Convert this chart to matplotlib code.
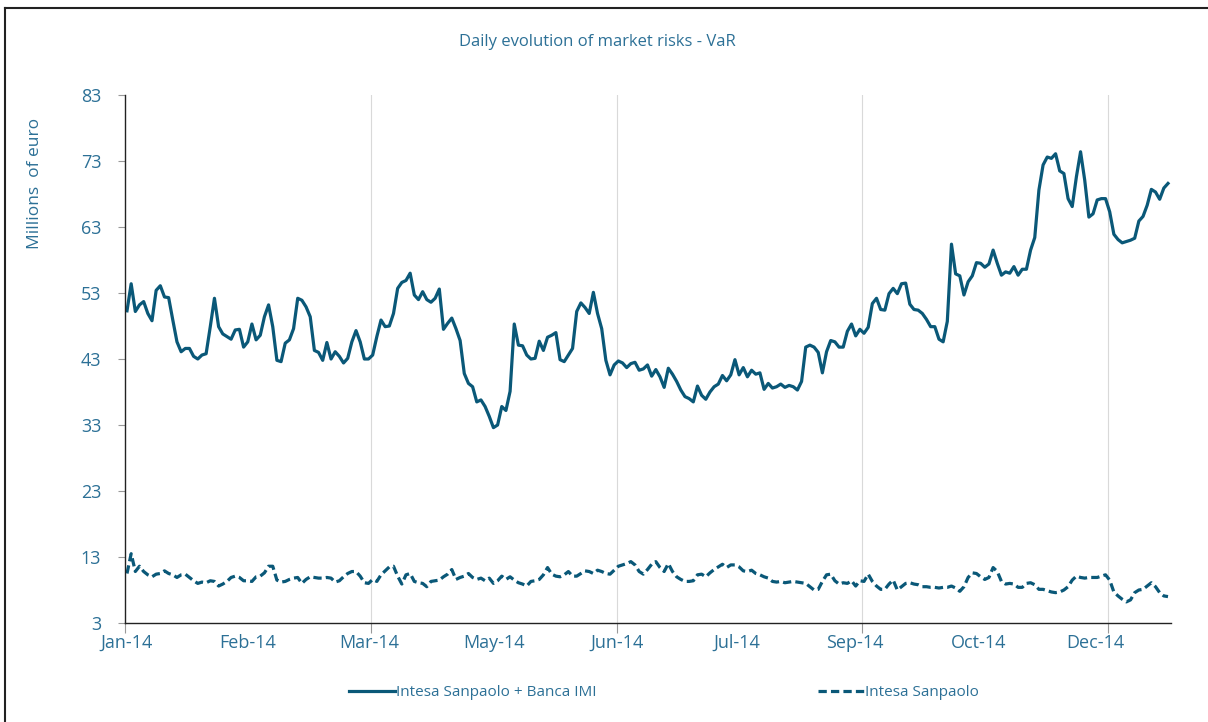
#VaR daily evolution chart
import numpy as np
import matplotlib
matplotlib.use("Agg")
import matplotlib.pyplot as plt
from matplotlib.lines import Line2D

plt.rcParams['font.family'] = ['Open Sans', 'DejaVu Sans']

#values (millions of euro), one per business day
group_var = [
    50.3, 54.4, 50.2, 51.2, 51.7, 49.9, 48.8, 53.4, 54.1, 52.4,
    52.3, 48.9, 45.6, 44.1, 44.6, 44.6, 43.4, 43.0, 43.6, 43.8,
    47.9, 52.2, 47.9, 46.8, 46.4, 46.0, 47.4, 47.5, 44.8, 45.6,
    48.3, 45.9, 46.6, 49.4, 51.2, 47.9, 42.8, 42.6, 45.4, 45.9,
    47.6, 52.2, 51.9, 50.9, 49.4, 44.3, 44.0, 42.8, 45.5, 43.0,
    44.1, 43.4, 42.4, 43.1, 45.6, 47.3, 45.6, 43.0, 43.0, 43.6,
    46.4, 48.9, 47.9, 48.0, 49.9, 53.7,
    54.6, 54.9, 56.0, 52.7, 52.0, 53.2, 52.0, 51.6, 52.2, 53.6,
    47.5, 48.4, 49.2, 47.6, 45.8, 40.8, 39.3, 38.8, 36.5, 36.8,
    35.8, 34.3, 32.6, 33.0, 35.8, 35.2, 38.1, 48.3, 45.1, 45.0,
    43.6, 43.0, 43.1, 45.7, 44.3, 46.3, 46.6, 47.0, 42.9, 42.6,
    43.6, 44.6, 50.2, 51.5, 50.8, 49.9, 53.1, 49.9, 47.6, 42.8,
    40.6, 42.1, 42.7, 42.4, 41.7, 42.3, 42.5, 41.3, 41.5, 42.1,
    40.4, 41.4, 40.3, 38.7, 41.6,
    40.7, 39.6, 38.3, 37.3, 37.0, 36.5, 38.9, 37.5, 36.9, 38.0,
    38.8, 39.2, 40.5, 39.7, 40.6, 42.9, 40.6, 41.7, 40.3, 41.3,
    40.7, 40.9, 38.4, 39.3, 38.6, 38.8, 39.2, 38.7, 39.0, 38.8,
    38.3, 39.6, 44.8, 45.1, 44.8, 44.0, 40.9, 44.1, 45.8, 45.6,
    44.8, 44.8, 47.2, 48.3, 46.5, 47.5, 46.9, 47.8, 51.4, 52.2,
    50.5, 50.4, 52.9, 53.7, 52.9, 54.4, 54.5, 51.3, 50.5, 50.4,
    49.9, 49.0, 47.9,
    47.9, 46.0, 45.6, 48.7, 60.4, 55.9, 55.6, 52.7, 54.7, 55.6,
    57.6, 57.5, 56.9, 57.4, 59.5, 57.5, 55.7, 56.2, 56.0, 57.0,
    55.7, 56.6, 56.6, 59.5, 61.4, 68.6, 72.4, 73.6, 73.4, 74.1,
    71.5, 71.1, 67.3, 66.1, 70.6, 74.4, 70.1, 64.5, 65.0, 67.1,
    67.3, 67.3, 65.3, 61.9, 61.1, 60.6, 60.8, 61.0, 61.3, 63.9,
    64.6, 66.3, 68.7, 68.3, 67.2, 68.9, 69.6,
]

isp_var = [
    10.5, 13.5, 10.8, 11.6, 10.8, 10.3, 10.0, 10.4, 10.5, 10.9,
    10.5, 10.3, 9.9, 10.3, 10.4, 9.9, 9.4, 9.0, 9.2, 9.1,
    9.4, 9.3, 8.6, 8.9, 9.3, 9.9, 10.1, 9.9, 9.4, 9.4,
    9.3, 10.0, 10.1, 10.6, 11.6, 11.6, 9.5, 9.2, 9.3, 9.6,
    9.8, 9.9, 9.0, 9.6, 10.0, 9.9, 9.8, 9.8, 9.9, 9.8,
    9.2, 9.4, 10.0, 10.5, 10.8, 10.8, 10.1, 9.1, 9.0, 9.6,
    9.3, 10.3, 10.9, 11.5, 11.6, 10.1, 8.9, 10.3, 10.5, 9.3,
    9.1, 9.0, 8.5, 9.3, 9.4, 9.5, 10.0, 10.4, 11.1, 9.6,
    9.9, 10.1, 10.5, 9.9, 9.6,
    9.8, 9.4, 9.8, 9.0, 9.4, 10.1, 9.6, 10.0, 9.5, 9.1,
    8.9, 8.6, 9.3, 9.4, 9.6, 10.3, 11.4, 10.4, 10.1, 10.0,
    10.3, 10.8, 10.1, 10.1, 10.5, 10.9, 10.8, 10.5, 11.0, 10.8,
    10.5, 10.4, 11.0, 11.6, 11.8, 12.0, 12.3, 11.8, 10.8, 10.4,
    11.1, 11.9, 12.3, 11.4, 10.8, 12.0, 10.8, 10.0, 9.6, 9.3,
    9.3, 9.4, 10.3, 10.4, 10.0, 10.6, 11.1, 11.5, 11.9, 11.4,
    11.8, 11.8, 11.5, 10.9, 10.8, 11.0, 10.5, 10.3, 10.0, 9.8,
    9.3, 9.2, 9.3, 9.1, 9.2, 9.3, 9.2, 9.1, 9.0, 8.5,
    8.0, 8.1, 9.3, 10.3,
    10.4, 9.4, 8.9, 9.1, 9.0, 9.4, 8.6, 9.4, 9.3, 10.4,
    9.3, 8.6, 8.1, 8.1, 8.9, 9.5, 8.0, 8.5, 9.0, 9.1,
    8.9, 8.8, 8.5, 8.5, 8.4, 8.4, 8.3, 8.4, 8.4, 8.6,
    8.3, 7.8, 8.5, 9.9, 10.6, 10.5, 10.0, 9.6, 9.9, 11.4,
    10.8, 9.3, 8.9, 9.0, 8.9, 8.4, 8.4, 9.0, 9.1, 8.8,
    8.1, 8.1, 7.9, 7.7, 7.6, 7.7, 8.0, 8.5, 9.5, 10.1,
    9.9, 9.8, 9.9, 9.9, 9.9, 10.1, 10.3, 9.5, 7.7, 7.1,
    6.6, 6.2, 6.5, 7.6, 8.0, 8.1, 8.6, 9.1, 8.5, 7.6,
    7.1, 7.0,
]

month_labels = ["Jan-14", "Feb-14", "Mar-14", "May-14", "Jun-14",
                "Jul-14", "Sep-14", "Oct-14", "Dec-14"]
y_ticks = [3, 13, 23, 33, 43, 53, 63, 73, 83]

line_col = "#0a5878"
text_col = "#2c7096"

fig = plt.figure(figsize=(12.08, 7.22), dpi=100)
ax = fig.add_axes([125 / 1208, 1 - 623 / 722, (1171 - 125) / 1208, (623 - 95) / 722])

n = len(group_var)
x_group = np.arange(n)
#second series read with a slightly different count, spread on the same span
x_isp = np.linspace(0, n - 1, len(isp_var))

ax.plot(x_group, group_var, color=line_col, lw=2.3, solid_joinstyle="round",
        label="Intesa Sanpaolo + Banca IMI")
ax.plot(x_isp, isp_var, color=line_col, lw=2.3, dashes=(2.6, 1.3),
        label="Intesa Sanpaolo")

#pixel -> index conversion for the axis
px_per_pt = (1168 - 127) / (n - 1)
def px2x(p):
    return (p - 127) / px_per_pt

ax.set_xlim(px2x(125), px2x(1171))
ax.set_ylim(3, 83)
ax.set_yticks(y_ticks)

grid_px = [125, 371, 617, 862, 1108]
label_px = [127, 248, 369, 494, 617, 737, 855, 979, 1095]
ax.xaxis.remove_overlapping_locs = False
ax.set_xticks([px2x(p) for p in grid_px], labels=[])
ax.set_xticks([px2x(p) for p in label_px], labels=month_labels, minor=True)
for g in grid_px[1:]:
    ax.axvline(px2x(g), color="#d9d9d9", lw=0.8, zorder=0)

ax.tick_params(axis="x", which="major", length=7, color="#999999", width=0.8)
ax.tick_params(axis="x", which="minor", length=0, pad=8, labelsize=13, labelcolor=text_col)
ax.tick_params(axis="y", length=5, color="#999999", width=0.8, pad=12,
               labelsize=13, labelcolor=text_col)

for s in ["top", "right"]:
    ax.spines[s].set_visible(False)
for s in ["left", "bottom"]:
    ax.spines[s].set_color("#222222")
    ax.spines[s].set_linewidth(1.0)

fig.text(35 / 1208, 1 - 183 / 722, "Millions  of euro", rotation=90, ha="center",
         va="center", fontsize=12.5, color=text_col)
fig.text(597 / 1208, 1 - 42 / 722, "Daily evolution of market risks - VaR",
         ha="center", va="center", fontsize=12, color=text_col)

leg = fig.legend(loc="center", bbox_to_anchor=(664 / 1208, 1 - 693 / 722), ncol=2,
                 frameon=False, fontsize=11, handlelength=3.0, handletextpad=0.1,
                 columnspacing=14.5)
for t in leg.get_texts():
    t.set_color(text_col)

#outer frame of the picture
fig.add_artist(Line2D([5 / 1208, 5 / 1208], [0, 1 - 8 / 722], transform=fig.transFigure,
                      color="#222222", lw=1.5))
fig.add_artist(Line2D([5 / 1208, 1], [1 - 8 / 722, 1 - 8 / 722], transform=fig.transFigure,
                      color="#222222", lw=1.5))

fig.savefig("out.png", dpi=100)
